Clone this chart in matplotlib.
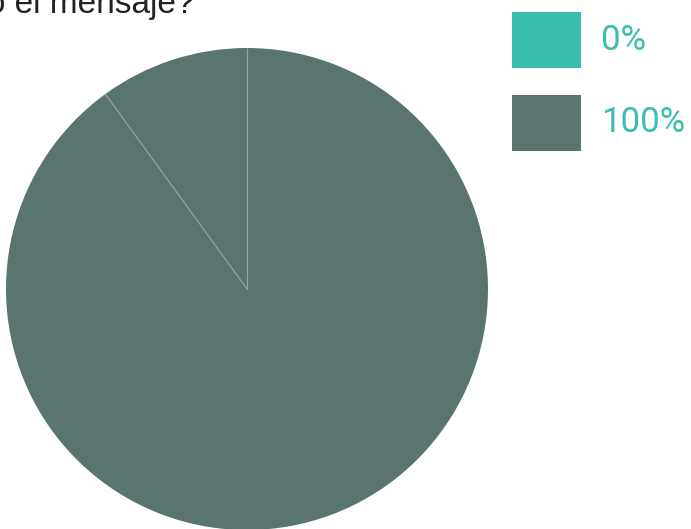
import numpy as np
import matplotlib.pyplot as plt
from matplotlib.patches import Rectangle

plt.rcParams['font.family'] = ['Roboto', 'DejaVu Sans']

# answers shown in the legend, plus the share of each slice
labels = ["0%", "100%"]
slice_values = [0, 10, 90]
slice_colors = ["#3bbfad", "#5a7470", "#5a7470"]
legend_colors = ["#3bbfad", "#5a7470"]
title = "¿Has entendido el mensaje?"

W, H = 691, 529
fig = plt.figure(figsize=(W / 100, H / 100), dpi=100)

# pie centred at (247, 289) px with radius 241 px
cx, cy, r = 247, 289, 241
ax = fig.add_axes([(cx - r) / W, (H - cy - r) / H, 2 * r / W, 2 * r / H])
wedges, _ = ax.pie(slice_values, colors=slice_colors, startangle=90,
                   counterclock=True, radius=1,
                   wedgeprops=dict(linewidth=0))
# thin light separators between slices
for w in wedges:
    a = np.deg2rad(w.theta1)
    ax.plot([0, np.cos(a)], [0, np.sin(a)], color="#93a8a4", lw=0.8,
            solid_capstyle="butt")
ax.set_xlim(-1, 1)
ax.set_ylim(-1, 1)
ax.set_aspect("equal")
ax.axis("off")

# question text, runs off the top-left edge
fig.text(194 / W, 1 - 13 / H, title, ha="right", va="baseline",
         fontsize=24, color="#222222", family=["Liberation Sans", "DejaVu Sans"])

# legend boxes and labels
for i, (lab, col) in enumerate(zip(labels, legend_colors)):
    top = 12 + i * 83
    fig.add_artist(Rectangle((512 / W, 1 - (top + 56) / H), 69 / W, 56 / H,
                             transform=fig.transFigure, color=col, lw=0))
    fig.text(601 / W, 1 - (top + 28) / H, lab, ha="left", va="center",
             fontsize=25, color="#3bbfad")

fig.savefig("out.png", dpi=100)
